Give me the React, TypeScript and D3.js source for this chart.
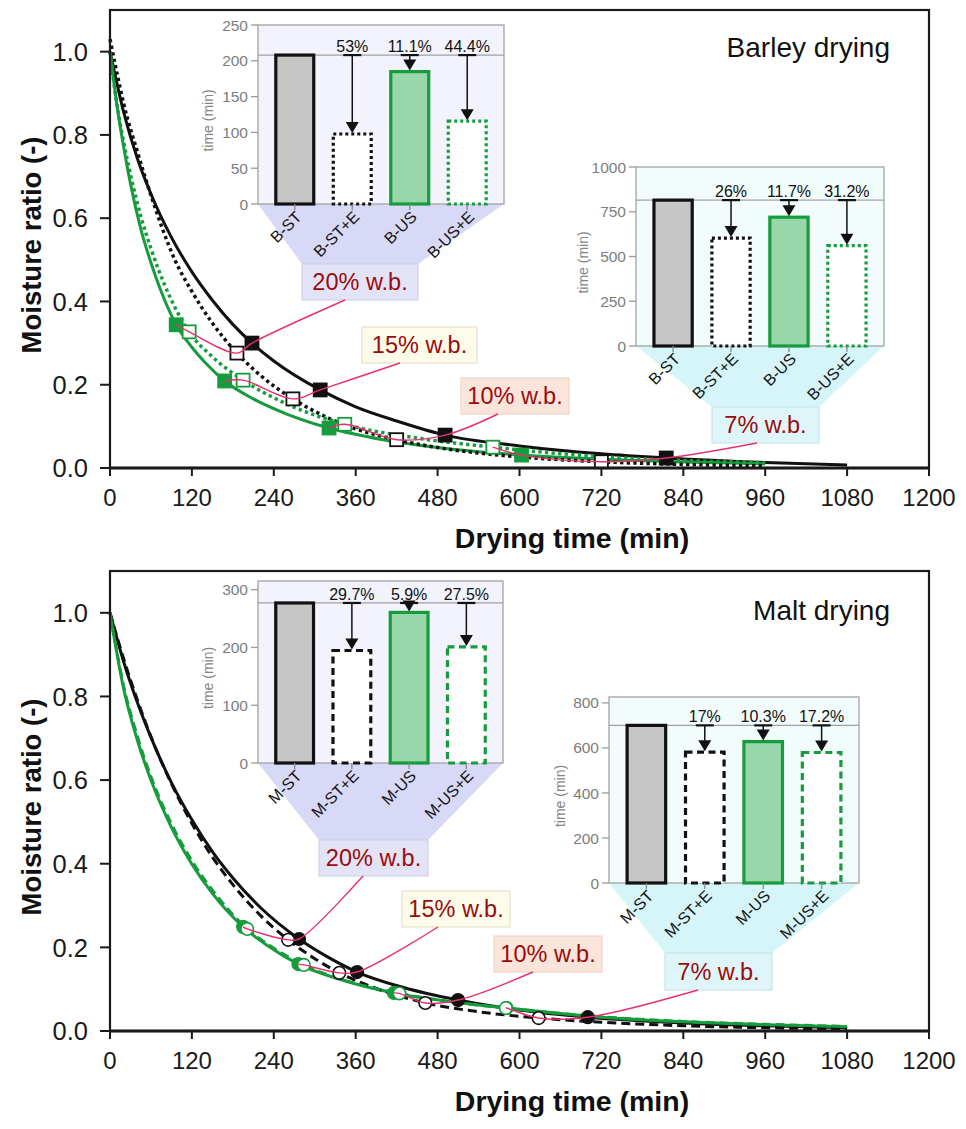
import React from "react";
import * as d3 from "d3";

const FONT = "'Liberation Sans', Arial, Helvetica, sans-serif";
const GREEN = "#169c3d";
const BLACK = "#111111";
const PINK = "#e8306f";
const LABEL_RED = "#9a0b0b";

// Moisture content levels marked on every curve
const levelNames = ["20% w.b.", "15% w.b.", "10% w.b.", "7% w.b."];

// ---------- Barley drying: fitted curves (time, min / moisture ratio) ----------
const barleySTTime = [0, 20, 40, 60, 90, 120, 150, 180, 208, 240, 308, 360, 420, 491, 600, 720, 815, 960, 1080];
const barleySTMR = [1, 0.855, 0.744, 0.658, 0.554, 0.471, 0.403, 0.345, 0.3, 0.257, 0.1875, 0.147, 0.113, 0.079, 0.053, 0.034, 0.024, 0.013, 0.007];
const barleyUSTime = [0, 10, 20, 40, 60, 95, 120, 150, 186, 220, 268, 320, 360, 420, 480, 540, 600, 720, 840, 960];
const barleyUSMR = [1.03, 0.95, 0.875, 0.76, 0.655, 0.5, 0.424, 0.348, 0.276, 0.223, 0.166, 0.12, 0.094, 0.068, 0.049, 0.036, 0.0266, 0.015, 0.0086, 0.005];
const barleySTETime = [0, 10, 20, 30, 45, 60, 75, 97, 120, 140, 168, 210, 260, 321, 400, 480, 603, 720, 840, 960];
const barleySTEMR = [1, 0.873, 0.771, 0.683, 0.575, 0.493, 0.424, 0.344, 0.29, 0.252, 0.209, 0.166, 0.129, 0.096, 0.068, 0.049, 0.031, 0.021, 0.0144, 0.01];
const barleyUSETime = [0, 10, 20, 30, 46, 60, 80, 116, 150, 195, 260, 344, 450, 561, 720, 840, 960];
const barleyUSEMR = [1, 0.875, 0.783, 0.705, 0.6, 0.527, 0.44, 0.327, 0.267, 0.211, 0.153, 0.105, 0.072, 0.05, 0.027, 0.018, 0.013];

// Barley: times and moisture ratios at 20, 15, 10 and 7 % w.b.
const barleySTLevelTime = [208, 308, 491, 815];
const barleySTLevelMR = [0.3, 0.1875, 0.079, 0.024];
const barleyUSLevelTime = [186, 268, 420, 720];
const barleyUSLevelMR = [0.276, 0.166, 0.068, 0.015];
const barleySTELevelTime = [97, 168, 321, 603];
const barleySTELevelMR = [0.344, 0.209, 0.096, 0.031];
const barleyUSELevelTime = [116, 195, 344, 561];
const barleyUSELevelMR = [0.327, 0.211, 0.105, 0.05];

// Barley drying times to 20 % and 7 % w.b. (reference, reductions in %)
const barleyNames = ["B-ST", "B-ST+E", "B-US", "B-US+E"];
const barley20Ref = 208;
const barley20Reduction = [0, 53, 11.1, 44.4];
const barley20Ticks = [0, 50, 100, 150, 200, 250];
const barley7Ref = 815;
const barley7Reduction = [0, 26, 11.7, 31.2];
const barley7Ticks = [0, 250, 500, 750, 1000];

// ---------- Malt drying ----------
const maltSTTime = [0, 20, 40, 60, 90, 120, 150, 180, 220, 277, 320, 362, 430, 510, 600, 700, 840, 960, 1080];
const maltSTMR = [1, 0.883, 0.786, 0.702, 0.594, 0.505, 0.429, 0.366, 0.296, 0.22, 0.176, 0.141, 0.104, 0.074, 0.05, 0.033, 0.0193, 0.0124, 0.008];
const maltUSTime = [0, 20, 40, 60, 90, 120, 150, 180, 220, 261, 300, 336, 400, 462, 540, 628, 720, 840, 960, 1080];
const maltUSMR = [1, 0.89, 0.792, 0.704, 0.591, 0.496, 0.416, 0.35, 0.277, 0.218, 0.173, 0.139, 0.096, 0.067, 0.046, 0.031, 0.021, 0.0125, 0.0077, 0.0047];
const maltSTETime = [0, 20, 40, 60, 90, 120, 150, 195, 230, 276, 340, 416, 500, 581, 720, 840, 960, 1080];
const maltSTEMR = [1, 0.818, 0.696, 0.6, 0.487, 0.399, 0.329, 0.249, 0.205, 0.16, 0.122, 0.091, 0.07, 0.055, 0.033, 0.022, 0.015, 0.01];
const maltUSETime = [0, 20, 40, 60, 90, 120, 150, 201, 240, 284, 350, 424, 500, 580, 720, 840, 960, 1080];
const maltUSEMR = [1, 0.825, 0.705, 0.608, 0.495, 0.407, 0.337, 0.244, 0.198, 0.158, 0.118, 0.09, 0.07, 0.055, 0.034, 0.023, 0.016, 0.011];

const maltSTLevelTime = [277, 362, 510, 700];
const maltSTLevelMR = [0.22, 0.141, 0.074, 0.033];
const maltUSLevelTime = [261, 336, 462, 628];
const maltUSLevelMR = [0.218, 0.139, 0.067, 0.031];
const maltSTELevelTime = [195, 276, 416, 581];
const maltSTELevelMR = [0.249, 0.16, 0.091, 0.055];
const maltUSELevelTime = [201, 284, 424, 580];
const maltUSELevelMR = [0.244, 0.158, 0.09, 0.055];

const maltNames = ["M-ST", "M-ST+E", "M-US", "M-US+E"];
const malt20Ref = 277;
const malt20Reduction = [0, 29.7, 5.9, 27.5];
const malt20Ticks = [0, 100, 200, 300];
const malt7Ref = 700;
const malt7Reduction = [0, 17, 10.3, 17.2];
const malt7Ticks = [0, 200, 400, 600, 800];

const xTicks = d3.range(0, 1201, 120);
const yTicks = [0, 0.2, 0.4, 0.6, 0.8, 1.0];

const X0 = 110;
const X1 = 929;
const xMain = d3.scaleLinear().domain([0, 1200]).range([X0, X1]);

type Box = { x0: number; x1: number; y0: number; y1: number; ax: number; fill: string; stroke: string };
type InsetSpec = {
  x0: number; x1: number; y0: number; y1: number; yMax: number; ticks: number[];
  ref: number; reduction: number[]; names: string[]; dash: string;
  bg: string; trap: string; box: number; titleX: number;
};

const boxColors = [
  { fill: "#e3e3f8", stroke: "#d0d0e8" },
  { fill: "#fdfbea", stroke: "#e6e2cc" },
  { fill: "#fbe5db", stroke: "#efd4c8" },
  { fill: "#def6fa", stroke: "#c8e4ea" },
];

function mkBoxes(r: number[][]): Box[] {
  return r.map((b, i) => ({ x0: b[0], x1: b[1], y0: b[2], y1: b[3], ax: b[4], ...boxColors[i] }));
}

const seriesStyle = [
  { key: "ST", color: BLACK, dashed: false, filled: true },
  { key: "US", color: BLACK, dashed: true, filled: false },
  { key: "ST+E", color: GREEN, dashed: false, filled: true },
  { key: "US+E", color: GREEN, dashed: true, filled: false },
];

const panels = [
  {
    top: 10,
    bottom: 468,
    title: "Barley drying",
    titleY: 57,
    shape: "square",
    dash: "3.3 3.3",
    dashWidth: 3.5,
    curves: [
      { t: barleySTTime, mr: barleySTMR },
      { t: barleyUSTime, mr: barleyUSMR },
      { t: barleySTETime, mr: barleySTEMR },
      { t: barleyUSETime, mr: barleyUSEMR },
    ],
    levels: [
      { t: barleySTLevelTime, mr: barleySTLevelMR },
      { t: barleyUSLevelTime, mr: barleyUSLevelMR },
      { t: barleySTELevelTime, mr: barleySTELevelMR },
      { t: barleyUSELevelTime, mr: barleyUSELevelMR },
    ],
    boxes: mkBoxes([
      [302, 418, 264, 300, 345],
      [362, 477, 327, 363, 400],
      [461, 569, 378, 414, 498],
      [712, 819, 407, 443, 757],
    ]),
    insets: [
      { x0: 258, x1: 504, y0: 25, y1: 204, yMax: 250, ticks: barley20Ticks, ref: barley20Ref, reduction: barley20Reduction, names: barleyNames, dash: "3 3", bg: "#f3f3fd", trap: "#d8d8f7", box: 0, titleX: 213 },
      { x0: 636, x1: 884, y0: 167, y1: 346, yMax: 1000, ticks: barley7Ticks, ref: barley7Ref, reduction: barley7Reduction, names: barleyNames, dash: "3 3", bg: "#f2fcfd", trap: "#d5f5f9", box: 3, titleX: 588 },
    ] as InsetSpec[],
  },
  {
    top: 571,
    bottom: 1031,
    title: "Malt drying",
    titleY: 620,
    shape: "circle",
    dash: "9 5",
    dashWidth: 3,
    curves: [
      { t: maltSTTime, mr: maltSTMR },
      { t: maltUSTime, mr: maltUSMR },
      { t: maltSTETime, mr: maltSTEMR },
      { t: maltUSETime, mr: maltUSEMR },
    ],
    levels: [
      { t: maltSTLevelTime, mr: maltSTLevelMR },
      { t: maltUSLevelTime, mr: maltUSLevelMR },
      { t: maltSTELevelTime, mr: maltSTELevelMR },
      { t: maltUSELevelTime, mr: maltUSELevelMR },
    ],
    boxes: mkBoxes([
      [319, 428, 840, 876, 363],
      [402, 510, 891, 927, 438],
      [494, 602, 936, 972, 533],
      [665, 772, 953, 990, 698],
    ]),
    insets: [
      { x0: 258, x1: 503, y0: 581, y1: 763, yMax: 315, ticks: malt20Ticks, ref: malt20Ref, reduction: malt20Reduction, names: maltNames, dash: "7 4.5", bg: "#f3f3fd", trap: "#d8d8f7", box: 0, titleX: 213 },
      { x0: 609, x1: 859, y0: 697, y1: 883, yMax: 826, ticks: malt7Ticks, ref: malt7Ref, reduction: malt7Reduction, names: maltNames, dash: "7 4.5", bg: "#f2fcfd", trap: "#d5f5f9", box: 3, titleX: 565 },
    ] as InsetSpec[],
  },
];

function Inset({ s, box }: { s: InsetSpec; box: Box }) {
  const y = d3.scaleLinear().domain([0, s.yMax]).range([s.y1, s.y0]);
  const x = d3.scaleBand<string>().domain(s.names).range([s.x0, s.x1]).paddingInner(0.34).paddingOuter(0.31);
  const bw = x.bandwidth();
  const values = s.reduction.map((r) => s.ref * (1 - r / 100));
  const yRef = y(s.ref);
  const barStyle = [
    { fill: "#c6c6c6", stroke: BLACK, dash: undefined },
    { fill: "#ffffff", stroke: BLACK, dash: s.dash },
    { fill: "#97d7a9", stroke: GREEN, dash: undefined },
    { fill: "#ffffff", stroke: GREEN, dash: s.dash },
  ];
  const trap = [
    [s.x0, s.y1],
    [s.x1, s.y1],
    [box.x1, box.y0],
    [box.x0, box.y0],
  ];
  return (
    <g>
      <path d={"M" + trap.map((p) => p.join(",")).join("L") + "Z"} fill={s.trap} />
      <rect x={s.x0} y={s.y0} width={s.x1 - s.x0} height={s.y1 - s.y0} fill={s.bg} stroke="#a3a3a3" strokeWidth={1.3} />
      {s.ticks.map((t) => (
        <g key={t}>
          <line x1={s.x0 - 7} x2={s.x0} y1={y(t)} y2={y(t)} stroke="#9a9a9a" strokeWidth={1.3} />
          <text x={s.x0 - 10} y={y(t)} dy="0.36em" textAnchor="end" fontSize={15.5} fill="#7d7d7d">
            {t}
          </text>
        </g>
      ))}
      <text transform={`translate(${s.titleX},${(s.y0 + s.y1) / 2 + 6}) rotate(-90)`} textAnchor="middle" fontSize={14} fill="#858585">
        time (min)
      </text>
      <line x1={s.x0} x2={s.x1} y1={yRef} y2={yRef} stroke="#a0a0a0" strokeWidth={1.3} />
      {s.names.map((n, i) => {
        const v = values[i];
        const bx = x(n) as number;
        const cx = bx + bw / 2;
        const st = barStyle[i];
        return (
          <g key={n}>
            <rect x={bx} y={y(v)} width={bw} height={y(0) - y(v)} fill={st.fill} stroke={st.stroke} strokeWidth={3.2} strokeDasharray={st.dash} />
            <line x1={cx} x2={cx} y1={s.y1} y2={s.y1 + 6} stroke="#8a8a8a" strokeWidth={1.3} />
            <text transform={`translate(${cx + 8},${s.y1 + 14}) rotate(-45)`} textAnchor="end" fontSize={16} fill={BLACK}>
              {n}
            </text>
            {i > 0 && (
              <g>
                <line x1={cx} x2={cx} y1={yRef} y2={y(v) - 10} stroke={BLACK} strokeWidth={1.5} />
                <path d={`M${cx - 6.5},${y(v) - 12}L${cx + 6.5},${y(v) - 12}L${cx},${y(v) - 1}Z`} fill={BLACK} />
                <line x1={cx - 9} x2={cx + 9} y1={yRef} y2={yRef} stroke={BLACK} strokeWidth={2.2} />
                <text x={cx} y={yRef - 3} textAnchor="middle" fontSize={16} fill={BLACK}>
                  {`${s.reduction[i]}%`}
                </text>
              </g>
            )}
          </g>
        );
      })}
    </g>
  );
}

function Panel({ p }: { p: (typeof panels)[number] }) {
  const y = d3.scaleLinear().domain([0, 1.1]).range([p.bottom, p.top]);
  const line = d3
    .line<number[]>()
    .x((d) => xMain(d[0]))
    .y((d) => y(d[1]))
    .curve(d3.curveMonotoneX);
  const pink = d3.line<number[]>().curve(d3.curveCatmullRom.alpha(0.5));
  const drawOrder = [0, 2, 1, 3];
  const cy = (p.top + p.bottom) / 2;
  return (
    <g>
      {p.insets.map((s, i) => (
        <Inset key={i} s={s} box={p.boxes[s.box]} />
      ))}
      {p.boxes.map((b, i) => (
        <g key={i}>
          <rect x={b.x0} y={b.y0} width={b.x1 - b.x0} height={b.y1 - b.y0} fill={b.fill} stroke={b.stroke} strokeWidth={1.2} />
          <text x={(b.x0 + b.x1) / 2} y={(b.y0 + b.y1) / 2 + 8} textAnchor="middle" fontSize={23.5} fill={LABEL_RED}>
            {levelNames[i]}
          </text>
        </g>
      ))}
      {drawOrder.map((k) => {
        const c = p.curves[k];
        const st = seriesStyle[k];
        return (
          <path
            key={k}
            d={line(c.t.map((t, i) => [t, c.mr[i]])) || ""}
            fill="none"
            stroke={st.color}
            strokeWidth={st.dashed ? p.dashWidth : 3}
            strokeDasharray={st.dashed ? p.dash : undefined}
          />
        );
      })}
      {drawOrder.map((k) => {
        const m = p.levels[k];
        const st = seriesStyle[k];
        return m.t.map((t, i) => {
          const px = xMain(t);
          const py = y(m.mr[i]);
          const fill = st.filled ? st.color : "#ffffff";
          return p.shape === "square" ? (
            <rect key={`${k}-${i}`} x={px - 6.5} y={py - 6.5} width={13} height={13} fill={fill} stroke={st.color} strokeWidth={1.8} />
          ) : (
            <circle key={`${k}-${i}`} cx={px} cy={py} r={6.3} fill={fill} stroke={st.color} strokeWidth={1.6} />
          );
        });
      })}
      {levelNames.map((_, li) => {
        const pts = p.levels
          .map((m) => [xMain(m.t[li]), y(m.mr[li])])
          .sort((a, b) => a[0] - b[0]);
        const b = p.boxes[li];
        pts.push([b.ax, b.y1]);
        return <path key={li} d={pink(pts) || ""} fill="none" stroke={PINK} strokeWidth={1.4} />;
      })}
      <rect x={X0} y={p.top} width={X1 - X0} height={p.bottom - p.top} fill="none" stroke="#1a1a1a" strokeWidth={2.2} />
      <line x1={X0} x2={X1} y1={p.bottom} y2={p.bottom} stroke="#1a1a1a" strokeWidth={2.8} />
      {yTicks.map((t) => (
        <g key={t}>
          <line x1={X0 - 10} x2={X0} y1={y(t)} y2={y(t)} stroke="#1a1a1a" strokeWidth={2} />
          <text x={X0 - 22} y={y(t)} dy="0.36em" textAnchor="end" fontSize={25.5} fill="#1a1a1a">
            {d3.format(".1f")(t)}
          </text>
        </g>
      ))}
      {xTicks.map((t) => (
        <g key={t}>
          <line x1={xMain(t)} x2={xMain(t)} y1={p.bottom} y2={p.bottom + 8} stroke="#1a1a1a" strokeWidth={2} />
          <text x={xMain(t)} y={p.bottom + 38} textAnchor="middle" fontSize={24} fill="#1a1a1a">
            {t}
          </text>
        </g>
      ))}
      <text x={572} y={p.bottom + 80} textAnchor="middle" fontSize={28.5} fontWeight="bold" fill="#111">
        Drying time (min)
      </text>
      <text transform={`translate(41,${cy + 6}) rotate(-90)`} textAnchor="middle" fontSize={27.5} fontWeight="bold" fill="#111">
        Moisture ratio (-)
      </text>
      <text x={890} y={p.titleY} textAnchor="end" fontSize={28} fill="#111">
        {p.title}
      </text>
    </g>
  );
}

export default function App() {
  return (
    <svg width={966} height={1129} style={{ position: "absolute", left: 0, top: 0, background: "#fff" }} fontFamily={FONT}>
      <rect width={966} height={1129} fill="#ffffff" />
      {panels.map((p, i) => (
        <Panel key={i} p={p} />
      ))}
    </svg>
  );
}
